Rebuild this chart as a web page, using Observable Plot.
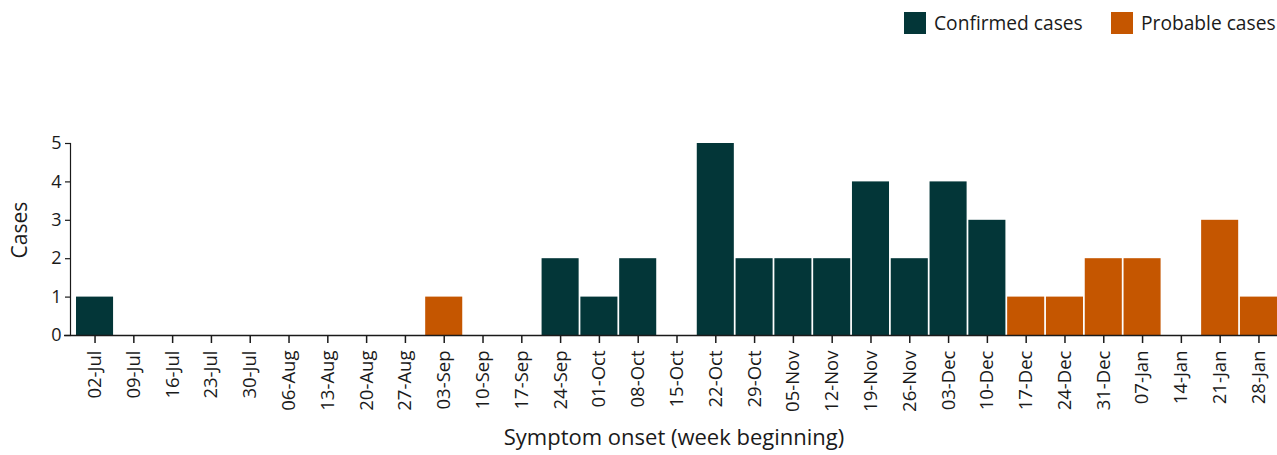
<!DOCTYPE html>
<html>
<head>
<meta charset="utf-8">
<script src="https://cdn.jsdelivr.net/npm/d3@7"></script>
<script src="https://cdn.jsdelivr.net/npm/@observablehq/plot@0.6"></script>
<style>
  html, body { margin: 0; padding: 0; background: #fff; }
  body { width: 1277px; height: 455px; overflow: hidden; font-family: "Open Sans", "Noto Sans", sans-serif; color: #1a1a1a; }
  #legend { position: relative; height: 48px; }
  .item { position: absolute; top: 12px; display: flex; align-items: center; font-size: 19.2px; line-height: 22px; }
  .sw { width: 22px; height: 22px; margin-right: 8px; }
  #chart svg { display: block; }
</style>
</head>
<body>
<div id="legend"></div>
<div id="chart"></div>
<script>
const weeks = ["02-Jul","09-Jul","16-Jul","23-Jul","30-Jul","06-Aug","13-Aug","20-Aug","27-Aug","03-Sep","10-Sep","17-Sep","24-Sep","01-Oct","08-Oct","15-Oct","22-Oct","29-Oct","05-Nov","12-Nov","19-Nov","26-Nov","03-Dec","10-Dec","17-Dec","24-Dec","31-Dec","07-Jan","14-Jan","21-Jan","28-Jan"];
const confirmed = [1,0,0,0,0,0,0,0,0,0,0,0,2,1,2,0,5,2,2,2,4,2,4,3,0,0,0,0,0,0,0];
const probable  = [0,0,0,0,0,0,0,0,0,1,0,0,0,0,0,0,0,0,0,0,0,0,0,0,1,1,2,2,0,3,1];
const seriesNames = ["Confirmed cases", "Probable cases"];
const seriesColors = ["#033638", "#c55600"];
const yTicks = [0,1,2,3,4,5];

const rows = [];
weeks.forEach((w, i) => {
  if (confirmed[i] > 0) rows.push({week: w, cases: confirmed[i], type: seriesNames[0]});
  if (probable[i] > 0) rows.push({week: w, cases: probable[i], type: seriesNames[1]});
});

// legend
const legend = document.getElementById("legend");
const legendX = [904, 1111];
seriesNames.forEach((n, i) => {
  const d = document.createElement("div");
  d.className = "item";
  d.style.left = legendX[i] + "px";
  d.innerHTML = `<span class="sw" style="background:${seriesColors[i]}"></span><span>${n}</span>`;
  legend.appendChild(d);
});

const chart = Plot.plot({
  width: 1277,
  height: 407,
  marginLeft: 70,
  marginRight: 0,
  marginTop: 95,
  marginBottom: 120,
  style: {fontFamily: "'Open Sans', 'Noto Sans', sans-serif", fontSize: "18px", color: "#1a1a1a", background: "#fff"},
  x: {type: "band", domain: weeks, range: [70, 1283], paddingInner: 0.045, paddingOuter: 0.155, round: false},
  y: {domain: [0, 5]},
  color: {domain: seriesNames, range: seriesColors},
  marks: [
    Plot.barY(rows, {x: "week", y: "cases", fill: "type"}),
    Plot.axisY({ticks: yTicks, tickSize: 5, tickPadding: 4, tickFormat: d => d, label: null, stroke: "#1a1a1a", strokeWidth: 1.2, fontSize: 18}),
    Plot.axisX({tickSize: 8, tickPadding: 7, tickRotate: -90, label: null, stroke: "#1a1a1a", strokeWidth: 1.5, fontSize: 18.5}),
    Plot.frame({anchor: "left", stroke: "#1a1a1a", strokeWidth: 1.2}),
    Plot.ruleY([0], {stroke: "#1a1a1a", strokeWidth: 1.6, insetLeft: -6}),
    Plot.text(["Cases"], {frameAnchor: "left", dx: -50, dy: 19, rotate: -90, fontSize: 21, fill: "#1a1a1a"}),
    Plot.text(["Symptom onset (week beginning)"], {frameAnchor: "bottom", dy: 109, fontSize: 22, fill: "#1a1a1a"})
  ]
});
document.getElementById("chart").appendChild(chart);
</script>
</body>
</html>
